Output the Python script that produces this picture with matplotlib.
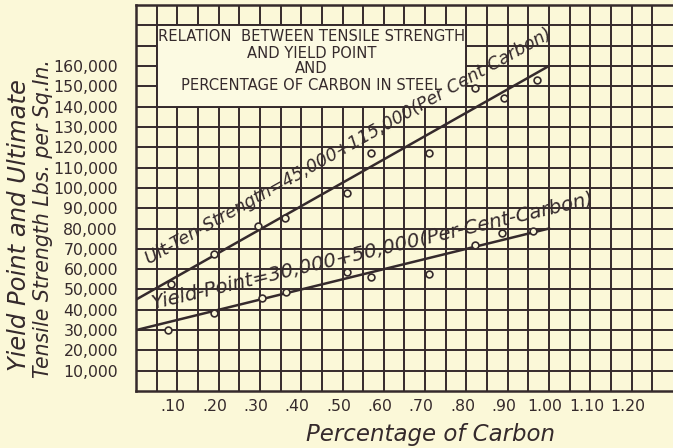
import matplotlib
matplotlib.use("Agg")
from matplotlib import pyplot as plt
from matplotlib import transforms
import numpy as np

# Relation between tensile strength / yield point and percentage of carbon

carbon_ult = [0.085, 0.19, 0.295, 0.36, 0.51, 0.57, 0.71, 0.82, 0.89, 0.97]
ult_strength = [52700, 67500, 81000, 85000, 97500, 117000, 117000, 149000, 144000, 153000]

carbon_yield = [0.077, 0.19, 0.305, 0.363, 0.51, 0.57, 0.71, 0.82, 0.886, 0.96]
yield_point = [30000, 38400, 45800, 48800, 58600, 56200, 57600, 71900, 77800, 78800]

ult_coef = [45000, 115000]
yield_coef = [30000, 50000]
fit_range = [0.0, 1.0]

y_ticks = list(range(10000, 170000, 10000))
x_ticks = [0.1, 0.2, 0.3, 0.4, 0.5, 0.6, 0.7, 0.8, 0.9, 1.0, 1.1, 1.2]
x_labels = [".10", ".20", ".30", ".40", ".50", ".60", ".70", ".80", ".90", "1.00", "1.10", "1.20"]

bg = "#fbf8d8"
ink = "#352a2c"

fig = plt.figure(figsize=(6.73, 4.48), dpi=100, facecolor=bg)
ax = fig.add_axes([0.202, 0.127, 0.798, 0.862], facecolor=bg)
ax.set_xlim(0, 1.30)
ax.set_ylim(0, 190000)

for x in np.arange(0.05, 1.30, 0.05):
    ax.axvline(x, color=ink, lw=1.4, zorder=1)
for y in range(10000, 190000, 10000):
    ax.axhline(y, color=ink, lw=1.4, zorder=1)
for s in ax.spines.values():
    s.set_color(ink)
    s.set_linewidth(1.8)
ax.spines["right"].set_visible(False)

# title box
ax.fill_between([0.05, 0.80], 140000, 180000, color="#fcfae2", zorder=2,
                edgecolor=ink, linewidth=1.4)
title_font = dict(fontsize=10.6, color=ink, ha="center", va="center", zorder=3)
ax.text(0.425, 174300, "RELATION  BETWEEN TENSILE STRENGTH", **title_font)
ax.text(0.425, 166300, "AND YIELD POINT", **title_font)
ax.text(0.425, 158900, "AND", **title_font)
ax.text(0.425, 150300, "PERCENTAGE OF CARBON IN STEEL", **title_font)

xs = np.array(fit_range)
ax.plot(xs, ult_coef[0] + ult_coef[1] * xs, color=ink, lw=1.8, zorder=4)
ax.plot(xs, yield_coef[0] + yield_coef[1] * xs, color=ink, lw=1.8, zorder=4)

ax.scatter(carbon_ult, ult_strength, s=24, facecolors=bg, edgecolors=ink,
           linewidths=1.2, zorder=5)
ax.scatter(carbon_yield, yield_point, s=24, facecolors=bg, edgecolors=ink,
           linewidths=1.2, zorder=5)

ax.text(0.031, 62500, "Ult-Ten-Strength=45,000+115,000(Per Cent Carbon)",
        rotation=29.4, rotation_mode="anchor", fontsize=12.6, style="italic",
        color=ink, zorder=6, va="baseline")
ax.text(0.041, 40500, "Yield-Point=30,000+50,000(Per-Cent-Carbon)",
        rotation=13.4, rotation_mode="anchor", fontsize=14.2, style="italic",
        color=ink, zorder=6, va="baseline")

ax.set_xticks(x_ticks)
ax.set_xticklabels(x_labels)
ax.set_yticks(y_ticks)
ax.set_yticklabels([f"{v:,}" for v in y_ticks])
ax.tick_params(length=0, labelsize=11.3, labelcolor=ink)
ax.tick_params(axis="y", pad=13)
ax.tick_params(axis="x", pad=6)
shift = transforms.ScaledTranslation(-4 / 100, 0, fig.dpi_scale_trans)
for lab in ax.get_xticklabels():
    lab.set_transform(lab.get_transform() + shift)

fig.text(0.639, 0.031, "Percentage of Carbon", fontsize=16.5, style="italic",
         color=ink, ha="center", va="center")
fig.text(0.028, 0.498, "Yield Point and Ultimate", fontsize=17.5, style="italic",
         color=ink, ha="center", va="center", rotation=90)
fig.text(0.064, 0.513, "Tensile Strength Lbs. per Sq.In.", fontsize=14.8, style="italic",
         color=ink, ha="center", va="center", rotation=90)

fig.savefig("out.png", dpi=100, facecolor=bg)
